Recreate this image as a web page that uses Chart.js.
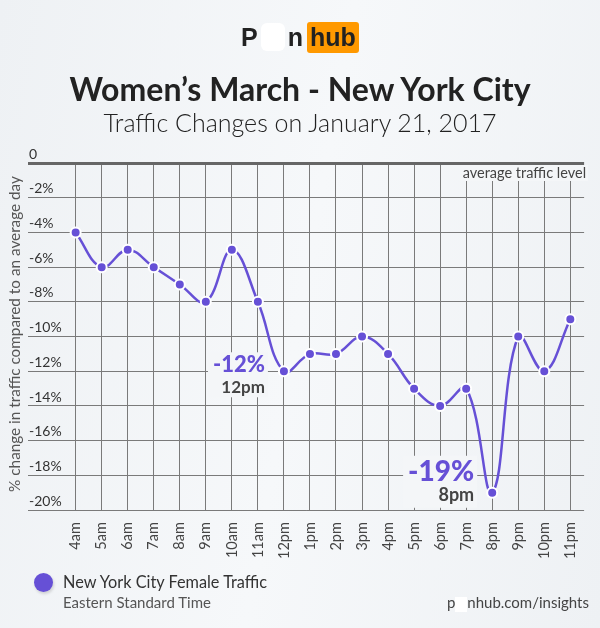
<!DOCTYPE html>
<html>
<head>
<meta charset="utf-8">
<script src="https://cdn.jsdelivr.net/npm/chart.js@4"></script>
<style>
  html, body { margin: 0; padding: 0; }
  body {
    width: 600px; height: 628px; overflow: hidden; position: relative;
    background: linear-gradient(100deg, #eef1f4 0%, #f6f8fa 50%, #eef1f4 100%);
    font-family: "Lato", "Open Sans", sans-serif; color: #222;
  }
  #logo { position: absolute; top: 22px; left: 0; width: 600px; text-align: center;
    font-family: "Liberation Sans", Arial, sans-serif; font-weight: bold; font-size: 25px; line-height: 31px; }
  #logo span { display: inline-block; vertical-align: top; }
  #logo .blank { width: 24px; height: 28px; background: #fff; border-radius: 6px; margin: 1px 3px 0 3px; }
  #logo .hub { background: #ff9900; border-radius: 3px; padding: 0 3px; margin-left: 4px; }
  #title { position: absolute; top: 69px; left: 0; width: 600px; text-align: center;
    font-weight: bold; font-size: 32px; color: #222; }
  #subtitle { position: absolute; top: 107px; left: 0; width: 600px; text-align: center;
    font-weight: 300; font-size: 25px; color: #222; }
  #wrap { position: absolute; left: 0; top: 0; width: 600px; height: 628px; }
  #legendDot { position: absolute; left: 34px; top: 573px; width: 19px; height: 19px; border-radius: 50%;
    background: #6650d6; box-shadow: 1px 2px 3px rgba(0,0,0,0.15); }
  #legend1 { position: absolute; left: 63px; top: 572px; font-size: 16.3px; color: #333; }
  #legend2 { position: absolute; left: 63px; top: 593px; font-size: 15px; color: #555; }
  #source { position: absolute; right: 11px; top: 593px; font-size: 15px; color: #444; }
  #source .blank { display: inline-block; width: 12px; height: 15px; background: #fff; vertical-align: middle; }
</style>
</head>
<body>
<div id="wrap"><canvas id="chart" width="600" height="628"></canvas></div>
<div id="logo"><span>P</span><span class="blank"></span><span>n</span><span class="hub">hub</span></div>
<div id="title">Women’s March - New York City</div>
<div id="subtitle">Traffic Changes on January 21, 2017</div>
<div id="legendDot"></div>
<div id="legend1">New York City Female Traffic</div>
<div id="legend2">Eastern Standard Time</div>
<div id="source">p<span class="blank"></span>nhub.com/insights</div>
<script>
const hours = ['4am', '5am', '6am', '7am', '8am', '9am', '10am', '11am', '12pm', '1pm',
  '2pm', '3pm', '4pm', '5pm', '6pm', '7pm', '8pm', '9pm', '10pm', '11pm'];
const femaleTraffic = [-4, -6, -5, -6, -7, -8, -5, -8, -12, -11,
  -11, -10, -11, -13, -14, -13, -19, -10, -12, -9];
const yTicks = [0, -2, -4, -6, -8, -10, -12, -14, -16, -18, -20];
const callouts = [
  { index: 8, big: '-12%', small: '12pm' },
  { index: 16, big: '-19%', small: '8pm' }
];

const purple = '#6650d6';
const bg = '#f4f6f8';

// extra text drawn on the chart: axis title, average label, callouts
const extras = {
  id: 'extras',
  afterDraw(chart) {
    const { ctx, chartArea, scales } = chart;
    ctx.save();
    // y axis title
    ctx.translate(15, 334);
    ctx.rotate(-Math.PI / 2);
    ctx.font = '15.3px Lato';
    ctx.fillStyle = '#555';
    ctx.textAlign = 'center';
    ctx.textBaseline = 'middle';
    ctx.fillText('% change in traffic compared to an average day', 0, 0);
    ctx.restore();

    ctx.save();
    ctx.font = '14.5px Lato';
    ctx.textAlign = 'right';
    ctx.textBaseline = 'middle';
    const t = 'average traffic level';
    const w = ctx.measureText(t).width;
    const ty = chartArea.top + 10;
    ctx.fillStyle = bg;
    ctx.fillRect(chartArea.right + 2 - w - 2, ty - 8, w + 4, 16);
    ctx.fillStyle = '#444';
    ctx.fillText(t, chartArea.right + 2, ty);
    ctx.restore();

    callouts.forEach((c, k) => {
      const px = scales.x.getPixelForValue(c.index);
      const py = scales.y.getPixelForValue(femaleTraffic[c.index]);
      const big = k === 0 ? 22 : 28;
      const small = k === 0 ? 17 : 18;
      const right = px - (k === 0 ? 19 : 18);
      const bigY = k === 0 ? py - 6 : py - 21;
      const smallY = k === 0 ? py + 16 : py + 2;
      ctx.save();
      ctx.font = '900 ' + big + 'px Lato';
      const bw = ctx.measureText(c.big).width;
      ctx.fillStyle = bg;
      ctx.fillRect(right - bw - 5, bigY - big / 2 - 2, bw + 8, big + small + 6);
      ctx.fillStyle = purple;
      ctx.textAlign = 'right';
      ctx.textBaseline = 'middle';
      ctx.fillText(c.big, right, bigY);
      ctx.font = 'bold ' + small + 'px Lato';
      ctx.fillStyle = '#444';
      ctx.fillText(c.small, right, smallY);
      ctx.restore();
    });
  }
};

new Chart(document.getElementById('chart'), {
  type: 'line',
  data: {
    datasets: [{
      label: 'New York City Female Traffic',
      data: femaleTraffic.map((v, i) => ({ x: i, y: v })),
      borderColor: purple,
      borderWidth: 2.5,
      tension: 0.4,
      pointRadius: 5,
      pointBackgroundColor: purple,
      pointBorderColor: '#ffffff',
      pointBorderWidth: 2,
      clip: false
    }]
  },
  options: {
    responsive: false,
    animation: false,
    events: [],
    layout: { padding: { left: 26, top: 163, right: 12, bottom: 57 } },
    plugins: { legend: { display: false }, tooltip: { enabled: false } },
    scales: {
      x: {
        type: 'linear',
        min: -1.83,
        max: 19.53,
        afterBuildTicks: (scale) => { scale.ticks = hours.map((h, i) => ({ value: i })); },
        border: { display: false },
        grid: { color: '#7a7a7a', lineWidth: 1, drawTicks: false },
        ticks: {
          autoSkip: false,
          minRotation: 90,
          maxRotation: 90,
          padding: 12,
          color: '#444',
          font: { family: 'Lato', size: 14.5 },
          callback: (v) => hours[v]
        }
      },
      y: {
        min: -20,
        max: 0,
        afterBuildTicks: (scale) => { scale.ticks = yTicks.map(v => ({ value: v })); },
        border: { display: false },
        grid: {
          drawTicks: false,
          color: (c) => c.tick && c.tick.value === 0 ? '#666' : '#7a7a7a',
          lineWidth: (c) => c.tick && c.tick.value === 0 ? 3 : 1
        },
        ticks: {
          mirror: true,
          padding: 1,
          labelOffset: -9,
          color: '#333',
          font: { family: 'Lato', size: 14 },
          callback: (v) => v === 0 ? '0' : v + '%'
        }
      }
    }
  },
  plugins: [extras]
});
</script>
</body>
</html>
